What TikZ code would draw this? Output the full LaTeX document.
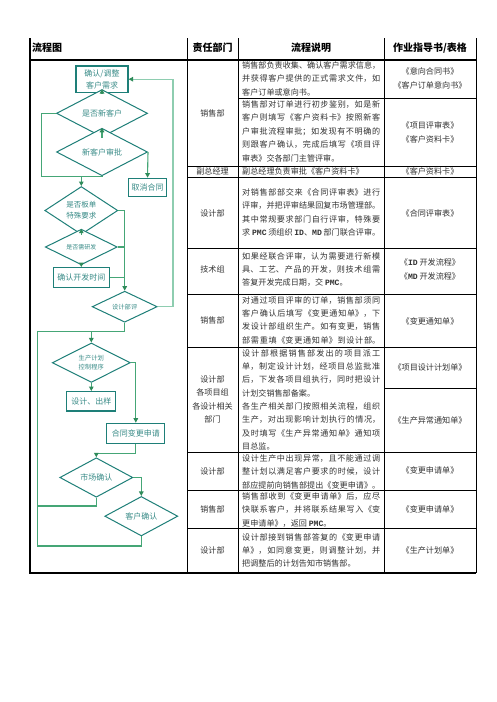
\documentclass[tikz,border=0pt]{standalone}
\usepackage{fontspec}
\setmainfont{Noto Sans CJK SC}
\newfontfamily\monob{Liberation Mono}
\usetikzlibrary{shapes.geometric,arrows.meta}
\XeTeXlinebreaklocale "zh"
\XeTeXlinebreakskip=0pt plus 2pt minus 0.3pt
\definecolor{boxc}{HTML}{1E7F78}
\definecolor{ftext}{HTML}{3A8C88}
\definecolor{linec}{HTML}{45A676}
\definecolor{loopc}{HTML}{8ECDB0}
\definecolor{tipc}{HTML}{2E8B5A}
\definecolor{btext}{HTML}{333333}
\newcommand\PMCt{{\monob\bfseries PMC}}
\newcommand\IDt{{\monob\bfseries ID}}
\newcommand\MDt{{\monob\bfseries MD}}
\newcommand\TL[3]{\node[tl] (#1) at (242,#2) {\parbox{138pt}{\tolerance=10000\parfillskip=0pt\noindent #3}};}
\newcommand\TE[3]{\node[tl] (#1) at (242,#2) {#3};}
\begin{document}
\begin{tikzpicture}[x=1pt,y=-1pt,
 tl/.style={anchor=west, inner sep=0pt, text=btext, font=\fontsize{8.1}{10}\selectfont},
 ct/.style={anchor=center, inner sep=0pt, text=btext, font=\fontsize{8.1}{13.4}\selectfont, align=center},
 hd/.style={inner sep=0pt, text=black, font=\fontsize{10}{12}\selectfont\bfseries},
 fbox/.style={rectangle, draw=boxc, line width=1.2pt, fill=white, inner sep=0pt, text=ftext, align=center, font=\fontsize{8}{12}\selectfont},
 fdia/.style={diamond, draw=boxc, line width=1pt, fill=white, inner sep=0pt, text=ftext, align=center, font=\fontsize{8}{11}\selectfont},
 ln/.style={draw=linec, line width=1.1pt},
 arr/.style={ln, -{Triangle[length=4.5pt,width=4.5pt,color=tipc]}},
 inl/.style={line width=0.7pt},
 outl/.style={line width=1.3pt}]
\fill[white] (0,0) rectangle (496,702);
\useasboundingbox (0,0) rectangle (496,702);

% ---------- table ----------
\draw[outl] (30,38) -- (30,573);
\draw[inl] (187,38) -- (187,573);
\draw[inl] (238,38) -- (238,573);
\draw[inl] (384,38) -- (384,573);
\draw[inl] (476,38) -- (476,573);
\draw[outl] (29.35,60) -- (476,60);
\draw[outl] (29.35,573) -- (476,573);
\foreach \yy in {166,177,248,294,347,452,490,528} \draw[inl] (187,\yy) -- (476,\yy);
\draw[inl] (238,98) -- (476,98);
\draw[inl] (384,388) -- (476,388);

% headers
\node[hd, anchor=west] (h1) at (32,48) {流程图};
\node[hd] (h2) at (212.5,48) {责任部门};
\node[hd] (h3) at (311,48) {流程说明};
\node[hd] (h4) at (430,48) {作业指导书/表格};

% departments
\node[ct] (p1) at (212.5,113) {销售部};
\node[ct] (p2) at (212.5,171.5) {副总经理};
\node[ct] (p3) at (212.5,213) {设计部};
\node[ct] (p4) at (212.5,269.4) {技术组};
\node[ct] (p5) at (212.5,320.5) {销售部};
\node[ct] (p6) at (212.5,399.5) {设计部\\各项目组\\各设计相关\\部门};
\node[ct] (p7) at (212.5,471) {设计部};
\node[ct] (p8) at (212.5,509) {销售部};
\node[ct] (p9) at (212.5,550.5) {设计部};

% descriptions
\TL{t1}{65.3}{销售部负责收集、确认客户需求信息，}
\TL{t2}{78.7}{并获得客户提供的正式需求文件，如}
\TE{t3}{92.1}{客户订单或意向书。}
\TL{t4}{104.5}{销售部对订单进行初步鉴别，如是新}
\TL{t5}{117.9}{客户则填写《客户资料卡》按照新客}
\TL{t6}{131.3}{户审批流程审批；如发现有不明确的}
\TL{t7}{144.7}{则跟客户确认，完成后填写《项目评}
\TE{t8}{158.1}{审表》交各部门主管评审。}
\TE{t9}{171.5}{副总经理负责审批《客户资料卡》}
\TL{t10}{192.3}{对销售部部交来《合同评审表》进行}
\TL{t11}{205.8}{评审，并把评审结果回复市场管理部。}
\TL{t12}{219.2}{其中常规要求部门自行评审，特殊要}
\TL{t13}{232.7}{求 \PMCt\ 须组织 \IDt、\MDt\ 部门联合评审。}
\TL{t14}{256}{如果经联合评审，认为需要进行新模}
\TL{t15}{269.4}{具、工艺、产品的开发，则技术组需}
\TE{t16}{282.8}{答复开发完成日期，交 \PMCt。}
\TL{t17}{300}{对通过项目评审的订单，销售部须同}
\TL{t18}{313.4}{客户确认后填写《变更通知单》，下}
\TL{t19}{326.8}{发设计部组织生产。如有变更，销售}
\TL{t20}{340.2}{部需重填《变更通知单》到设计部。}
\TL{t21}{353.2}{设计部根据销售部发出的项目派工}
\TL{t22}{366.5}{单，制定设计计划，经项目总监批准}
\TL{t23}{379.8}{后，下发各项目组执行，同时把设计}
\TE{t24}{393.1}{计划交销售部备案。}
\TL{t25}{406.4}{各生产相关部门按照相关流程，组织}
\TL{t26}{419.7}{生产，对出现影响计划执行的情况，}
\TL{t27}{433}{及时填写《生产异常通知单》通知项}
\TE{t28}{446.3}{目总监。}
\TL{t29}{458.5}{设计生产中出现异常，且不能通过调}
\TL{t30}{471.9}{整计划以满足客户要求的时候，设计}
\TL{t31}{485.3}{部应提前向销售部提出《变更申请》。}
\TL{t32}{496.3}{销售部收到《变更申请单》后，应尽}
\TL{t33}{509.7}{快联系客户，并将联系结果写入《变}
\TE{t34}{523.1}{更申请单》，返回 \PMCt。}
\TL{t35}{537}{设计部接到销售部答复的《变更申请}
\TL{t36}{550.4}{单》，如同意变更，则调整计划，并}
\TE{t37}{563.8}{把调整后的计划告知市销售部。}

% forms
\node[ct] (f1) at (430,71) {《意向合同书》};
\node[ct] (f2) at (430,85) {《客户订单意向书》};
\node[ct] (f3) at (430,125) {《项目评审表》};
\node[ct] (f4) at (430,139) {《客户资料卡》};
\node[ct] (f5) at (430,171.5) {《客户资料卡》};
\node[ct] (f6) at (430,213) {《合同评审表》};
\node[ct] (f7) at (430,262.5) {《\IDt\ 开发流程》};
\node[ct] (f8) at (430,276) {《\MDt\ 开发流程》};
\node[ct] (f9) at (430,321) {《变更通知单》};
\node[ct] (f10) at (430,367) {《项目设计计划单》};
\node[ct] (f11) at (430,420) {《生产异常通知单》};
\node[ct] (f12) at (430,470) {《变更申请单》};
\node[ct] (f13) at (430,509) {《变更申请单》};
\node[ct] (f14) at (430,550) {《生产计划单》};

% ---------- flowchart ----------
\node[fbox, minimum width=52pt, minimum height=26.3pt] (b1) at (102,79.2) {确认/调整\\客户需求};
\node[fdia, minimum width=91pt, minimum height=27pt] (d1) at (102,113.3) {是否新客户};
\node[fdia, minimum width=91pt, minimum height=27pt] (d2) at (102,152) {新客户审批};
\node[fbox, minimum width=38pt, minimum height=18.4pt] (cancel) at (147.5,187.5) {取消合同};
\node[fdia, minimum width=73pt, minimum height=38pt, font=\fontsize{7.5}{11}\selectfont] (d3) at (81.3,210.5) {是否板单\\特殊要求};
\node[fdia, minimum width=72pt, minimum height=27pt, font=\fontsize{6}{8}\selectfont] (d4) at (81.3,247) {是否需研发};
\node[fbox, minimum width=55.7pt, minimum height=19.6pt] (dev) at (81.3,277.5) {确认开发时间};
\node[fdia, minimum width=65pt, minimum height=27pt, font=\fontsize{6.3}{8}\selectfont] (d5) at (124.7,306.7) {设计部评};
\node[fdia, minimum width=78pt, minimum height=32pt, font=\fontsize{6.3}{8.4}\selectfont] (d6) at (91.3,362.7) {生产计划\\控制程序};
\node[fbox, minimum width=49pt, minimum height=19.3pt] (des) at (91.3,401.3) {设计、出样};
\node[fbox, minimum width=58pt, minimum height=20pt] (chg) at (135.8,433.3) {合同变更申请};
\node[fdia, minimum width=73pt, minimum height=28pt] (d7) at (96.3,477.5) {市场确认};
\node[fdia, minimum width=73pt, minimum height=28pt] (d8) at (141.3,516.2) {客户确认};

\coordinate (m1) at (81.3,176.7);
\coordinate (lw) at (41.3,176.7);
\coordinate (rt) at (173,79.2);
\coordinate (m2) at (91.3,331.7);
\coordinate (m3) at (96.3,453.3);
\coordinate (lb) at (37.3,546);
\coordinate (lm) at (37.3,506);
\coordinate (lt) at (37.3,331.7);

\draw[arr] (b1.south) -- (d1.north);
\draw[arr] (d1.south) -- (d2.north);
\draw[arr] (d2.east) -- (cancel.north);
\draw[ln] (d1.west) -| (lw) -| (d2.south);
\draw[arr] (m1) -- (d3.north);
\draw[arr] (d3.south) -- (d4.north);
\draw[arr] (d4.south) -- (dev.north);
\draw[arr] (d3.east) -| (d5.north);
\draw[ln] (d4.east) -- (d4.east -| d5.north);
\draw[ln] (dev.east) -- (dev.east -| d5.north);
\draw[arr, draw=loopc] (d5.east) -| (rt) -- (b1.east);
\draw[ln] (d5.south) |- (m2);
\draw[arr] (m2) -- (d6.north);
\draw[arr] (d6.south) -- (des.north);
\draw[arr] (d6.east) -| (chg.north);
\draw[ln] (chg.south) |- (m3);
\draw[arr] (m3) -- (d7.north);
\draw[arr] (d7.east) -| (d8.north);
\draw[ln] (d8.south) |- (lb) -- (lt) -- (m2);
\draw[ln] (d7.south) |- (lm);
\end{tikzpicture}
\end{document}
